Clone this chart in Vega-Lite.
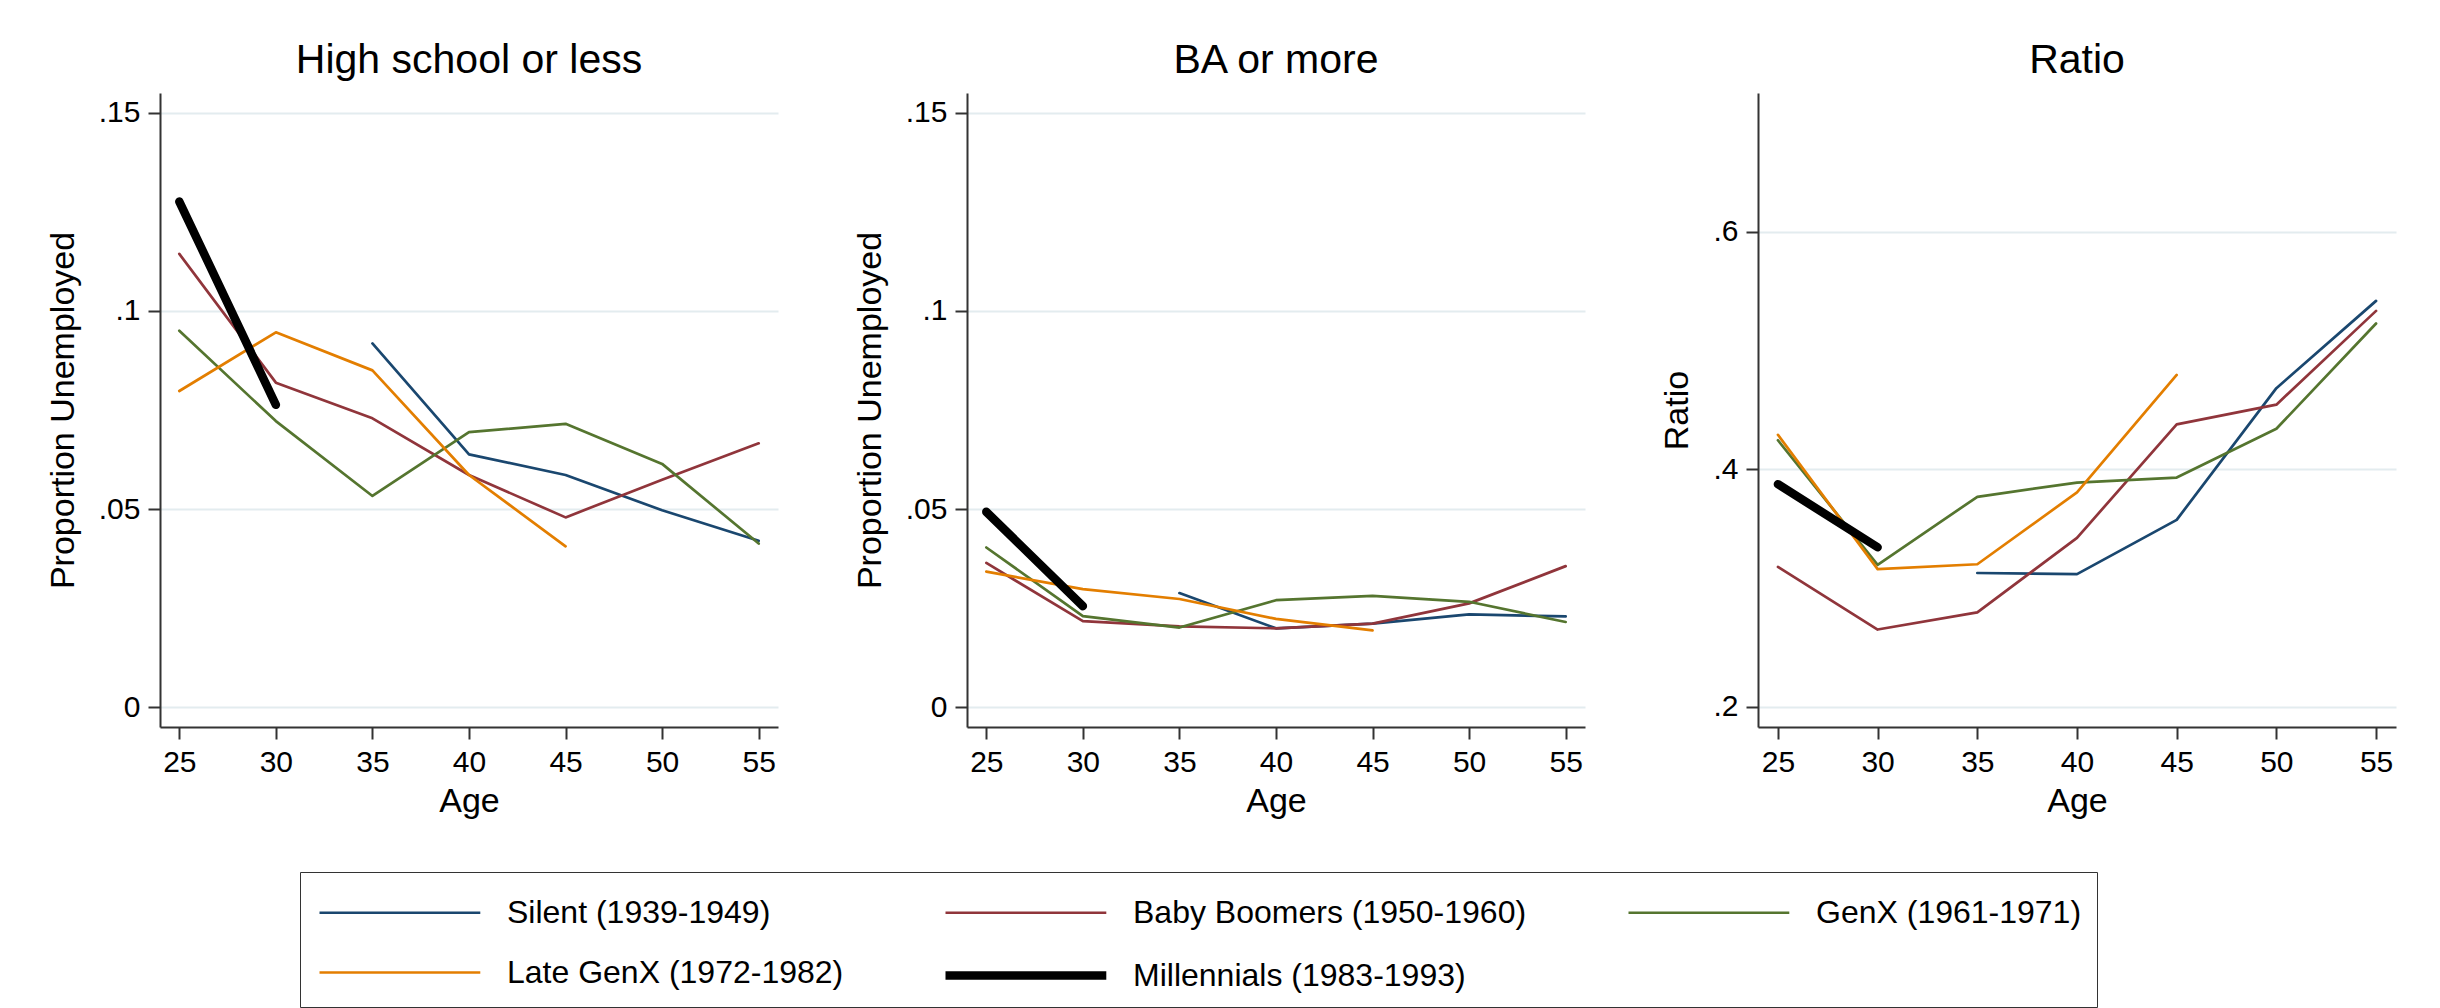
{
  "$schema": "https://vega.github.io/schema/vega-lite/v6.json",
  "background": "white",
  "padding": {"left": 46, "top": 40, "right": 5, "bottom": 5},
  "config": {
    "font": "Liberation Sans",
    "view": {"stroke": null},
    "axis": {"domainColor": "#333333", "domainWidth": 2, "tickColor": "#333333", "tickWidth": 2, "tickSize": 12, "labelFontSize": 30, "labelColor": "#000000", "titleFontSize": 34, "titleFontWeight": "normal", "titleColor": "#000000", "gridColor": "#e3ecef", "gridWidth": 2, "labelPadding": 8},
    "axisX": {"grid": false, "titlePadding": 7},
    "axisY": {"grid": true, "labelAngle": 0, "titlePadding": 18},
    "title": {"fontSize": 41, "fontWeight": "normal", "color": "#000000", "anchor": "middle", "baseline": "alphabetic", "offset": 11},
    "line": {"strokeCap": "round", "strokeJoin": "round"}
  },
  "datasets": {
    "hs": [
      {"cohort": "Silent (1939-1949)", "age": 35, "value": 0.0918},
      {"cohort": "Silent (1939-1949)", "age": 40, "value": 0.0638},
      {"cohort": "Silent (1939-1949)", "age": 45, "value": 0.0586},
      {"cohort": "Silent (1939-1949)", "age": 50, "value": 0.0497},
      {"cohort": "Silent (1939-1949)", "age": 55, "value": 0.0420},
      {"cohort": "Baby Boomers (1950-1960)", "age": 25, "value": 0.1144},
      {"cohort": "Baby Boomers (1950-1960)", "age": 30, "value": 0.0819},
      {"cohort": "Baby Boomers (1950-1960)", "age": 35, "value": 0.0729},
      {"cohort": "Baby Boomers (1950-1960)", "age": 40, "value": 0.0586},
      {"cohort": "Baby Boomers (1950-1960)", "age": 45, "value": 0.0479},
      {"cohort": "Baby Boomers (1950-1960)", "age": 50, "value": 0.0574},
      {"cohort": "Baby Boomers (1950-1960)", "age": 55, "value": 0.0666},
      {"cohort": "GenX (1961-1971)", "age": 25, "value": 0.0950},
      {"cohort": "GenX (1961-1971)", "age": 30, "value": 0.0722},
      {"cohort": "GenX (1961-1971)", "age": 35, "value": 0.0533},
      {"cohort": "GenX (1961-1971)", "age": 40, "value": 0.0694},
      {"cohort": "GenX (1961-1971)", "age": 45, "value": 0.0715},
      {"cohort": "GenX (1961-1971)", "age": 50, "value": 0.0614},
      {"cohort": "GenX (1961-1971)", "age": 55, "value": 0.0413},
      {"cohort": "Late GenX (1972-1982)", "age": 25, "value": 0.0798},
      {"cohort": "Late GenX (1972-1982)", "age": 30, "value": 0.0946},
      {"cohort": "Late GenX (1972-1982)", "age": 35, "value": 0.0850},
      {"cohort": "Late GenX (1972-1982)", "age": 40, "value": 0.0586},
      {"cohort": "Late GenX (1972-1982)", "age": 45, "value": 0.0406},
      {"cohort": "Millennials (1983-1993)", "age": 25, "value": 0.1276},
      {"cohort": "Millennials (1983-1993)", "age": 30, "value": 0.0763}
    ],
    "ba": [
      {"cohort": "Silent (1939-1949)", "age": 35, "value": 0.0288},
      {"cohort": "Silent (1939-1949)", "age": 40, "value": 0.0199},
      {"cohort": "Silent (1939-1949)", "age": 45, "value": 0.0211},
      {"cohort": "Silent (1939-1949)", "age": 50, "value": 0.0234},
      {"cohort": "Silent (1939-1949)", "age": 55, "value": 0.0229},
      {"cohort": "Baby Boomers (1950-1960)", "age": 25, "value": 0.0364},
      {"cohort": "Baby Boomers (1950-1960)", "age": 30, "value": 0.0217},
      {"cohort": "Baby Boomers (1950-1960)", "age": 35, "value": 0.0204},
      {"cohort": "Baby Boomers (1950-1960)", "age": 40, "value": 0.0199},
      {"cohort": "Baby Boomers (1950-1960)", "age": 45, "value": 0.0211},
      {"cohort": "Baby Boomers (1950-1960)", "age": 50, "value": 0.0262},
      {"cohort": "Baby Boomers (1950-1960)", "age": 55, "value": 0.0356},
      {"cohort": "GenX (1961-1971)", "age": 25, "value": 0.0403},
      {"cohort": "GenX (1961-1971)", "age": 30, "value": 0.0230},
      {"cohort": "GenX (1961-1971)", "age": 35, "value": 0.0201},
      {"cohort": "GenX (1961-1971)", "age": 40, "value": 0.0270},
      {"cohort": "GenX (1961-1971)", "age": 45, "value": 0.0281},
      {"cohort": "GenX (1961-1971)", "age": 50, "value": 0.0266},
      {"cohort": "GenX (1961-1971)", "age": 55, "value": 0.0215},
      {"cohort": "Late GenX (1972-1982)", "age": 25, "value": 0.0342},
      {"cohort": "Late GenX (1972-1982)", "age": 30, "value": 0.0298},
      {"cohort": "Late GenX (1972-1982)", "age": 35, "value": 0.0273},
      {"cohort": "Late GenX (1972-1982)", "age": 40, "value": 0.0223},
      {"cohort": "Late GenX (1972-1982)", "age": 45, "value": 0.0194},
      {"cohort": "Millennials (1983-1993)", "age": 25, "value": 0.0493},
      {"cohort": "Millennials (1983-1993)", "age": 30, "value": 0.0255}
    ],
    "ratio": [
      {"cohort": "Silent (1939-1949)", "age": 35, "value": 0.3127},
      {"cohort": "Silent (1939-1949)", "age": 40, "value": 0.3118},
      {"cohort": "Silent (1939-1949)", "age": 45, "value": 0.3575},
      {"cohort": "Silent (1939-1949)", "age": 50, "value": 0.4684},
      {"cohort": "Silent (1939-1949)", "age": 55, "value": 0.5419},
      {"cohort": "Baby Boomers (1950-1960)", "age": 25, "value": 0.3178},
      {"cohort": "Baby Boomers (1950-1960)", "age": 30, "value": 0.2651},
      {"cohort": "Baby Boomers (1950-1960)", "age": 35, "value": 0.2795},
      {"cohort": "Baby Boomers (1950-1960)", "age": 40, "value": 0.3423},
      {"cohort": "Baby Boomers (1950-1960)", "age": 45, "value": 0.4379},
      {"cohort": "Baby Boomers (1950-1960)", "age": 50, "value": 0.4545},
      {"cohort": "Baby Boomers (1950-1960)", "age": 55, "value": 0.5335},
      {"cohort": "GenX (1961-1971)", "age": 25, "value": 0.4245},
      {"cohort": "GenX (1961-1971)", "age": 30, "value": 0.3196},
      {"cohort": "GenX (1961-1971)", "age": 35, "value": 0.3769},
      {"cohort": "GenX (1961-1971)", "age": 40, "value": 0.3889},
      {"cohort": "GenX (1961-1971)", "age": 45, "value": 0.3931},
      {"cohort": "GenX (1961-1971)", "age": 50, "value": 0.4342},
      {"cohort": "GenX (1961-1971)", "age": 55, "value": 0.5229},
      {"cohort": "Late GenX (1972-1982)", "age": 25, "value": 0.4291},
      {"cohort": "Late GenX (1972-1982)", "age": 30, "value": 0.3160},
      {"cohort": "Late GenX (1972-1982)", "age": 35, "value": 0.3201},
      {"cohort": "Late GenX (1972-1982)", "age": 40, "value": 0.3806},
      {"cohort": "Late GenX (1972-1982)", "age": 45, "value": 0.4795},
      {"cohort": "Millennials (1983-1993)", "age": 25, "value": 0.3875},
      {"cohort": "Millennials (1983-1993)", "age": 30, "value": 0.3344}
    ]
  },
  "spacing": 75,
  "hconcat": [
    {
      "width": 618, "height": 634,
      "title": "High school or less",
      "data": {"name": "hs"},
      "mark": {"type": "line"},
      "encoding": {
        "x": {"field": "age", "type": "quantitative", "title": "Age", "scale": {"domain": [24, 56], "nice": false, "zero": false}, "axis": {"values": [25, 30, 35, 40, 45, 50, 55]}},
        "y": {"field": "value", "type": "quantitative", "title": "Proportion Unemployed", "scale": {"domain": [-0.005, 0.155], "nice": false, "zero": false}, "axis": {"values": [0, 0.05, 0.1, 0.15], "labelExpr": "replace(toString(datum.value), '0.', '.')"}},
        "color": {"field": "cohort", "type": "nominal", "scale": {"domain": ["Silent (1939-1949)", "Baby Boomers (1950-1960)", "GenX (1961-1971)", "Late GenX (1972-1982)", "Millennials (1983-1993)"], "range": ["#1a476f", "#90353b", "#55752f", "#e37e00", "#000000"]},
          "legend": {"orient": "none", "legendX": 140, "legendY": 779, "columns": 3, "direction": "horizontal", "title": null, "symbolType": "M-1,0H5.7", "symbolSize": 2304, "labelFontSize": 32, "labelOffset": 135, "columnPadding": 97, "rowPadding": 18, "padding": 15, "strokeColor": "#333333", "labelColor": "#000000", "labelLimit": 0}},
        "strokeWidth": {"field": "cohort", "type": "nominal", "scale": {"type": "ordinal", "domain": ["Silent (1939-1949)", "Baby Boomers (1950-1960)", "GenX (1961-1971)", "Late GenX (1972-1982)", "Millennials (1983-1993)"], "range": [2.7, 2.7, 2.7, 2.7, 8.5]},
          "legend": {"orient": "none", "legendX": 140, "legendY": 779, "columns": 3, "direction": "horizontal", "title": null, "symbolType": "M-1,0H5.7", "symbolSize": 2304, "labelFontSize": 32, "labelOffset": 135, "columnPadding": 97, "rowPadding": 18, "padding": 15, "strokeColor": "#333333", "labelColor": "#000000", "labelLimit": 0}}
      }
    },
    {
      "width": 618, "height": 634,
      "title": "BA or more",
      "data": {"name": "ba"},
      "mark": {"type": "line"},
      "encoding": {
        "x": {"field": "age", "type": "quantitative", "title": "Age", "scale": {"domain": [24, 56], "nice": false, "zero": false}, "axis": {"values": [25, 30, 35, 40, 45, 50, 55]}},
        "y": {"field": "value", "type": "quantitative", "title": "Proportion Unemployed", "scale": {"domain": [-0.005, 0.155], "nice": false, "zero": false}, "axis": {"values": [0, 0.05, 0.1, 0.15], "labelExpr": "replace(toString(datum.value), '0.', '.')"}},
        "color": {"field": "cohort", "type": "nominal", "scale": {"domain": ["Silent (1939-1949)", "Baby Boomers (1950-1960)", "GenX (1961-1971)", "Late GenX (1972-1982)", "Millennials (1983-1993)"], "range": ["#1a476f", "#90353b", "#55752f", "#e37e00", "#000000"]},
          "legend": {"orient": "none", "legendX": 140, "legendY": 779, "columns": 3, "direction": "horizontal", "title": null, "symbolType": "M-1,0H5.7", "symbolSize": 2304, "labelFontSize": 32, "labelOffset": 135, "columnPadding": 97, "rowPadding": 18, "padding": 15, "strokeColor": "#333333", "labelColor": "#000000", "labelLimit": 0}},
        "strokeWidth": {"field": "cohort", "type": "nominal", "scale": {"type": "ordinal", "domain": ["Silent (1939-1949)", "Baby Boomers (1950-1960)", "GenX (1961-1971)", "Late GenX (1972-1982)", "Millennials (1983-1993)"], "range": [2.7, 2.7, 2.7, 2.7, 8.5]},
          "legend": {"orient": "none", "legendX": 140, "legendY": 779, "columns": 3, "direction": "horizontal", "title": null, "symbolType": "M-1,0H5.7", "symbolSize": 2304, "labelFontSize": 32, "labelOffset": 135, "columnPadding": 97, "rowPadding": 18, "padding": 15, "strokeColor": "#333333", "labelColor": "#000000", "labelLimit": 0}}
      }
    },
    {
      "width": 638, "height": 634,
      "title": "Ratio",
      "data": {"name": "ratio"},
      "mark": {"type": "line"},
      "encoding": {
        "x": {"field": "age", "type": "quantitative", "title": "Age", "scale": {"domain": [24, 56], "nice": false, "zero": false}, "axis": {"values": [25, 30, 35, 40, 45, 50, 55]}},
        "y": {"field": "value", "type": "quantitative", "title": "Ratio", "scale": {"domain": [0.183, 0.717], "nice": false, "zero": false}, "axis": {"values": [0.2, 0.4, 0.6], "labelExpr": "replace(toString(datum.value), '0.', '.')"}},
        "color": {"field": "cohort", "type": "nominal", "scale": {"domain": ["Silent (1939-1949)", "Baby Boomers (1950-1960)", "GenX (1961-1971)", "Late GenX (1972-1982)", "Millennials (1983-1993)"], "range": ["#1a476f", "#90353b", "#55752f", "#e37e00", "#000000"]},
          "legend": {"orient": "none", "legendX": 140, "legendY": 779, "columns": 3, "direction": "horizontal", "title": null, "symbolType": "M-1,0H5.7", "symbolSize": 2304, "labelFontSize": 32, "labelOffset": 135, "columnPadding": 97, "rowPadding": 18, "padding": 15, "strokeColor": "#333333", "labelColor": "#000000", "labelLimit": 0}},
        "strokeWidth": {"field": "cohort", "type": "nominal", "scale": {"type": "ordinal", "domain": ["Silent (1939-1949)", "Baby Boomers (1950-1960)", "GenX (1961-1971)", "Late GenX (1972-1982)", "Millennials (1983-1993)"], "range": [2.7, 2.7, 2.7, 2.7, 8.5]},
          "legend": {"orient": "none", "legendX": 140, "legendY": 779, "columns": 3, "direction": "horizontal", "title": null, "symbolType": "M-1,0H5.7", "symbolSize": 2304, "labelFontSize": 32, "labelOffset": 135, "columnPadding": 97, "rowPadding": 18, "padding": 15, "strokeColor": "#333333", "labelColor": "#000000", "labelLimit": 0}}
      }
    }
  ]
}
